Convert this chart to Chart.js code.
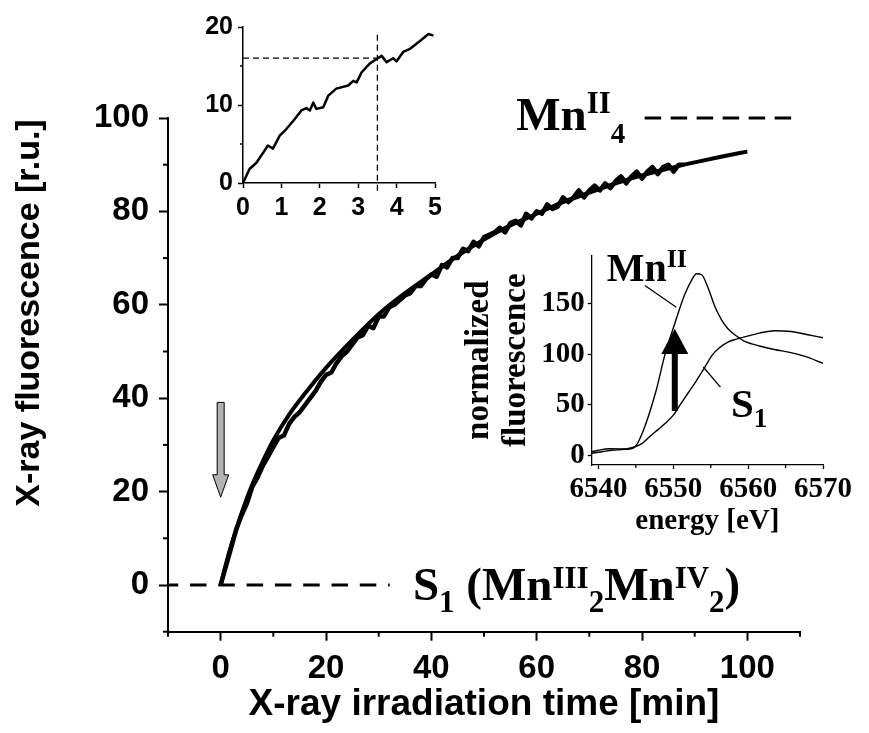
<!DOCTYPE html>
<html>
<head>
<meta charset="utf-8">
<script src="https://cdn.jsdelivr.net/npm/chart.js@4.4.1/dist/chart.umd.min.js"></script>
<style>
  html, body { margin: 0; padding: 0; background: #fff; }
  #wrap { position: relative; width: 869px; height: 733px; }
  canvas { position: absolute; }
  #main { left: 0; top: 0; }
  #early { left: 180px; top: 0; }
  #xanes { left: 455px; top: 235px; }
</style>
</head>
<body>
<div id="wrap">
  <canvas id="main" width="869" height="733" style="width:869px;height:733px"></canvas>
  <canvas id="early" width="270" height="230" style="width:270px;height:230px"></canvas>
  <canvas id="xanes" width="400" height="310" style="width:400px;height:310px"></canvas>
</div>
<script>
// irradiation kinetics, measured trace (min / r.u.)
const timeMin = [0,1,2,3,4,5,6,7,8,9,10,11,12,13,14,15,16,17,18,19,20,21,22,23,24,25,26,27,28,29,
  30,31,32,33,34,35,36,37,38,39,40,41,42,43,44,45,46,47,48,49,50,51,52,53,54,55,56,57,58,59,
  60,61,62,63,64,65,66,67,68,69,70,71,72,73,74,75,76,77,78,79,80,81,82,83,84,85,86,87,88];
const fluorescence = [0,4,8,12,15,17.5,21,23,25.5,27.5,
  29.5,31.5,32,34.5,36,37,38.5,40,41.5,43.5,
  45,45.5,47.5,49,50,51.5,53,53.5,55.5,55,
  57.5,57.5,59.5,60,61,62,62.5,64,64,65.5,
  66.5,66,68.5,68,70,70,72,71.5,73.5,72.5,
  74.5,75,75.5,76.5,75.5,77.5,78,77,79.5,78.5,
  80,79.5,81.5,80.5,81,83,82,83,84.5,83,
  84.5,85.5,84.5,86,85,86.5,87.5,86,87.5,88.5,
  87,88.5,89.5,88,89.5,90,88.5,90,90];

// fitted rise
const fitTime = [0,1,2,4,6,8,10,13,16,20,25,30,35,40,45,50,55,60,65,70,75,80,85,90,95,100];
const fitFluor = [0,4.5,8.5,15.5,21.5,26.5,31,36.5,41,46.5,52.5,58,62.5,66.5,70.5,74,77,79.5,82,84,86,87.7,89.2,90.5,91.7,92.8];

// reference levels
const s1Level = 0;
const mn4Level = 100;

// first five minutes
const earlyTime = [0,0.17,0.35,0.65,0.78,0.96,1.09,1.35,1.52,1.65,1.74,1.83,1.91,2.09,2.22,2.43,2.74,2.87,2.96,3.09,3.3,3.48,3.61,3.74,3.91,4,4.17,4.35,4.61,4.83,4.96];
const earlyFluor = [0,1.8,2.6,4.8,4.4,6.1,6.7,8.2,9.3,9.6,9.3,10.3,9.5,9.7,11.2,12.1,12.5,13.1,12.9,14.2,15.3,15.9,16.3,15.5,16,15.6,16.8,17.2,18.2,19.1,18.9];
const markTime = 3.5;
const markFluor = 16;

// Mn K-edge spectra
const mnEnergy = [6539.1,6540,6541.4,6543,6543.9,6544.9,6546,6547.7,6548.9,6550.2,6551.5,6552.4,6553.1,6553.8,6554.6,6555.6,6556.5,6557.3,6558.4,6559.4,6560.5,6561.5,6563.5,6565.7,6567.5,6570];
const mnSignal = [4,5.5,7,6.8,6.5,9,25,64,100,130,158,172,179,178,166,146,133,125,118,113,110,108,104.5,101.5,98,91];
const s1Energy = [6539.1,6540.5,6541.8,6543.5,6544.7,6545.8,6546.8,6548,6548.9,6550,6551,6552,6553.1,6554.2,6555.2,6556.2,6557.3,6558.3,6559.4,6561.5,6563.6,6565.7,6567.8,6570];
const s1Signal = [2.5,4,5.5,6.5,8.5,12,18.6,26,31.7,40,51,62,74,87,99,106.5,111.8,114.5,116.7,120.6,123,122.2,119.3,116];

// tick values
const timeTicks = [0,20,40,60,80,100];
const timeMinor = [-10,10,30,50,70,90,110];
const fluorTicks = [0,20,40,60,80,100];
const fluorMinor = [-10,10,30,50,70,90];
const earlyTimeTicks = [0,1,2,3,4,5];
const earlyFluorTicks = [0,10,20];
const earlyFluorMinor = [5,15];
const energyTicks = [6540,6550,6560,6570];
const energyMinor = [6545,6555,6565];
const normTicks = [0,50,100,150];

const SANS = "'Liberation Sans', Arial, sans-serif";
const SERIF = "'Liberation Serif', 'Times New Roman', serif";

const pts = (xs, ys) => xs.map((x, i) => ({ x, y: ys[i] }));

// short tick marks between the labelled ones
const minorTicks = {
  id: 'minorTicks',
  afterDraw(chart, args, opts) {
    const ctx = chart.ctx;
    (opts.marks || []).forEach(m => {
      const sc = chart.scales[m.axis];
      ctx.save();
      ctx.strokeStyle = '#000';
      ctx.lineWidth = m.width;
      m.values.forEach(v => {
        const p = sc.getPixelForValue(v);
        ctx.beginPath();
        if (sc.isHorizontal()) {
          ctx.moveTo(p, sc.top);
          ctx.lineTo(p, sc.top + m.len);
        } else {
          ctx.moveTo(sc.right, p);
          ctx.lineTo(sc.right - m.len, p);
        }
        ctx.stroke();
      });
      ctx.restore();
    });
  }
};

// text with super/subscripts: parts = [text, size, baseline shift]
function drawRich(ctx, x, y, parts) {
  ctx.save();
  ctx.fillStyle = '#000';
  ctx.textBaseline = 'alphabetic';
  ctx.textAlign = 'left';
  parts.forEach(([t, size, dy]) => {
    ctx.font = 'bold ' + size + 'px ' + SERIF;
    ctx.fillText(t, x, y + dy);
    x += ctx.measureText(t).width;
  });
  ctx.restore();
}

function line(ctx, x1, y1, x2, y2, w) {
  ctx.beginPath();
  ctx.moveTo(x1, y1);
  ctx.lineTo(x2, y2);
  ctx.lineWidth = w;
  ctx.stroke();
}

// vertical block arrow: shaft from fromPx to basePx, head tip at toPx
function arrow(ctx, xPx, fromPx, basePx, toPx, shaftW, headW, fill, stroke) {
  ctx.save();
  ctx.beginPath();
  ctx.moveTo(xPx - shaftW / 2, fromPx);
  ctx.lineTo(xPx + shaftW / 2, fromPx);
  ctx.lineTo(xPx + shaftW / 2, basePx);
  ctx.lineTo(xPx + headW / 2, basePx);
  ctx.lineTo(xPx, toPx);
  ctx.lineTo(xPx - headW / 2, basePx);
  ctx.lineTo(xPx - shaftW / 2, basePx);
  ctx.closePath();
  ctx.fillStyle = fill;
  ctx.fill();
  if (stroke) {
    ctx.strokeStyle = stroke;
    ctx.lineWidth = 1;
    ctx.stroke();
  }
  ctx.restore();
}

function fixedTicks(values) {
  return s => { s.ticks = values.map(v => ({ value: v })); };
}

function axis(cfg) {
  return {
    type: 'linear',
    min: cfg.min,
    max: cfg.max,
    afterBuildTicks: fixedTicks(cfg.ticks),
    afterFit: s => { if (cfg.height !== undefined) s.height = cfg.height; if (cfg.width !== undefined) s.width = cfg.width; },
    grid: { drawOnChartArea: false, drawTicks: true, tickLength: cfg.tickLen, tickWidth: cfg.lw, tickColor: '#000', color: '#000' },
    border: { display: true, color: '#000', width: cfg.lw },
    ticks: { color: '#000', padding: cfg.pad, maxRotation: 0, autoSkip: false, font: cfg.font, callback: v => String(v) },
    title: cfg.title
  };
}

const baseOpts = {
  responsive: false,
  animation: false,
  events: [],
  plugins: { legend: { display: false }, tooltip: { enabled: false } }
};

// ---- main kinetics chart ----
const mainNotes = {
  id: 'mainNotes',
  afterDraw(chart) {
    const { ctx, scales: { x, y } } = chart;
    // y axis title, sits a little above the middle of the axis
    ctx.save();
    ctx.translate(30, 313);
    ctx.rotate(-Math.PI / 2);
    ctx.font = 'bold 34px ' + SANS;
    ctx.fillStyle = '#000';
    ctx.textAlign = 'center';
    ctx.textBaseline = 'middle';
    ctx.fillText('X-ray fluorescence [r.u.]', 0, 0);
    ctx.restore();
    // grey marker arrow at t = 0
    arrow(ctx, x.getPixelForValue(0), y.getPixelForValue(39.1), y.getPixelForValue(23.6), y.getPixelForValue(18.8), 7, 16, '#b3b3b3', '#000');
    drawRich(ctx, x.getPixelForValue(56.1), y.getPixelForValue(97.4), [['Mn', 47, 0], ['II', 31, -17], ['4', 29, 13]]);
    drawRich(ctx, x.getPixelForValue(36.5), y.getPixelForValue(-3.2), [
      ['S', 47, 0], ['1', 31, 12], [' (', 47, 0], ['Mn', 47, 0], ['III', 31, -12], ['2', 31, 12],
      ['Mn', 47, 0], ['IV', 31, -12], ['2', 31, 12], [')', 47, 0]
    ]);
  }
};

new Chart(document.getElementById('main'), {
  type: 'line',
  data: {
    datasets: [
      { data: pts(timeMin, fluorescence), borderColor: '#000', borderWidth: 4.5, pointRadius: 0, tension: 0, borderJoinStyle: 'round' },
      { data: pts(fitTime, fitFluor), borderColor: '#000', borderWidth: 4, pointRadius: 0, cubicInterpolationMode: 'monotone' },
      { data: pts([-10, 32.1], [s1Level, s1Level]), borderColor: '#000', borderWidth: 3, pointRadius: 0, borderDash: [16.5, 11.8], borderDashOffset: 6.3, clip: false },
      { data: pts([80.5, 110], [mn4Level, mn4Level]), borderColor: '#000', borderWidth: 3, pointRadius: 0, borderDash: [16.5, 9.5], clip: false }
    ]
  },
  options: {
    ...baseOpts,
    layout: { padding: { top: 118, right: 69, left: 0, bottom: 0 } },
    scales: {
      x: axis({
        min: -10, max: 110, ticks: timeTicks, height: 101.3, tickLen: 9, lw: 2, pad: 8,
        font: { family: SANS, weight: 'bold', size: 33 },
        title: { display: true, text: 'X-ray irradiation time [min]', color: '#000', font: { family: SANS, weight: 'bold', size: 37 }, padding: { top: 0, bottom: 6 } }
      }),
      y: axis({
        min: -10, max: 100, ticks: fluorTicks, width: 168, tickLen: 9, lw: 2, pad: 10,
        font: { family: SANS, weight: 'bold', size: 33 }
      })
    },
    plugins: {
      ...baseOpts.plugins,
      minorTicks: { marks: [
        { axis: 'x', values: timeMinor, len: 5, width: 2 },
        { axis: 'y', values: fluorMinor, len: 5, width: 2 }
      ] }
    }
  },
  plugins: [minorTicks, mainNotes]
});

// ---- first minutes inset ----
new Chart(document.getElementById('early'), {
  type: 'line',
  data: {
    datasets: [
      { data: pts(earlyTime, earlyFluor), borderColor: '#000', borderWidth: 2.5, pointRadius: 0, tension: 0, borderJoinStyle: 'round' },
      { data: pts([0, markTime], [markFluor, markFluor]), borderColor: '#000', borderWidth: 1.3, pointRadius: 0, borderDash: [6, 4], clip: false },
      { data: pts([markTime, markTime], [19, -1.5]), borderColor: '#000', borderWidth: 1.3, pointRadius: 0, borderDash: [6, 4], clip: false }
    ]
  },
  options: {
    ...baseOpts,
    layout: { padding: { top: 27, right: 15, left: 0, bottom: 0 } },
    scales: {
      x: axis({ min: 0, max: 5, ticks: earlyTimeTicks, height: 47, tickLen: 5, lw: 1.5, pad: 5,
        font: { family: SANS, weight: 'bold', size: 25 } }),
      y: axis({ min: 0, max: 20, ticks: earlyFluorTicks, width: 63, tickLen: 5, lw: 1.5, pad: 5,
        font: { family: SANS, weight: 'bold', size: 25 } })
    },
    plugins: {
      ...baseOpts.plugins,
      minorTicks: { marks: [{ axis: 'y', values: earlyFluorMinor, len: 3, width: 1.5 }] }
    }
  },
  plugins: [minorTicks]
});

// ---- XANES inset ----
const xanesNotes = {
  id: 'xanesNotes',
  afterDraw(chart) {
    const { ctx, scales: { x, y } } = chart;
    ctx.save();
    ctx.strokeStyle = '#000';
    const ax = x.getPixelForValue(6550.2);
    arrow(ctx, ax, y.getPixelForValue(44), y.getPixelForValue(100), y.getPixelForValue(125), 6, 27, '#000', null);
    line(ctx, x.getPixelForValue(6546.2), y.getPixelForValue(167.4), x.getPixelForValue(6550.4), y.getPixelForValue(146.1), 1.3);
    line(ctx, x.getPixelForValue(6554.0), y.getPixelForValue(87.3), x.getPixelForValue(6556.3), y.getPixelForValue(67.6), 1.3);
    ctx.restore();
    drawRich(ctx, x.getPixelForValue(6541.1), y.getPixelForValue(172), [['Mn', 40, 0], ['II', 26, -14]]);
    drawRich(ctx, x.getPixelForValue(6557.7), y.getPixelForValue(38.2), [['S', 41, 0], ['1', 27, 10]]);
  }
};

new Chart(document.getElementById('xanes'), {
  type: 'line',
  data: {
    datasets: [
      { data: pts(mnEnergy, mnSignal), borderColor: '#000', borderWidth: 1.4, pointRadius: 0, cubicInterpolationMode: 'monotone' },
      { data: pts(s1Energy, s1Signal), borderColor: '#000', borderWidth: 1.4, pointRadius: 0, cubicInterpolationMode: 'monotone' }
    ]
  },
  options: {
    ...baseOpts,
    layout: { padding: { top: 20, right: 17.3, left: 0, bottom: 0 } },
    scales: {
      x: axis({
        min: 6539.1, max: 6570, ticks: energyTicks, height: 80, tickLen: 4, lw: 1.3, pad: 3,
        font: { family: SERIF, weight: 'bold', size: 29 },
        title: { display: true, text: 'energy [eV]', color: '#000', font: { family: SERIF, weight: 'bold', size: 29 }, padding: { top: 0, bottom: 6 } }
      }),
      y: axis({
        min: -9, max: 197, ticks: normTicks, width: 136.7, tickLen: 4, lw: 1.3, pad: 3,
        font: { family: SERIF, weight: 'bold', size: 29 },
        title: { display: true, text: ['normalized', 'fluorescence'], color: '#000', font: { family: SERIF, weight: 'bold', size: 33, lineHeight: 1.15 }, padding: { top: 5, bottom: 0 } }
      })
    },
    plugins: {
      ...baseOpts.plugins,
      minorTicks: { marks: [{ axis: 'x', values: energyMinor, len: 3, width: 1.3 }] }
    }
  },
  plugins: [minorTicks, xanesNotes]
});
</script>
</body>
</html>
